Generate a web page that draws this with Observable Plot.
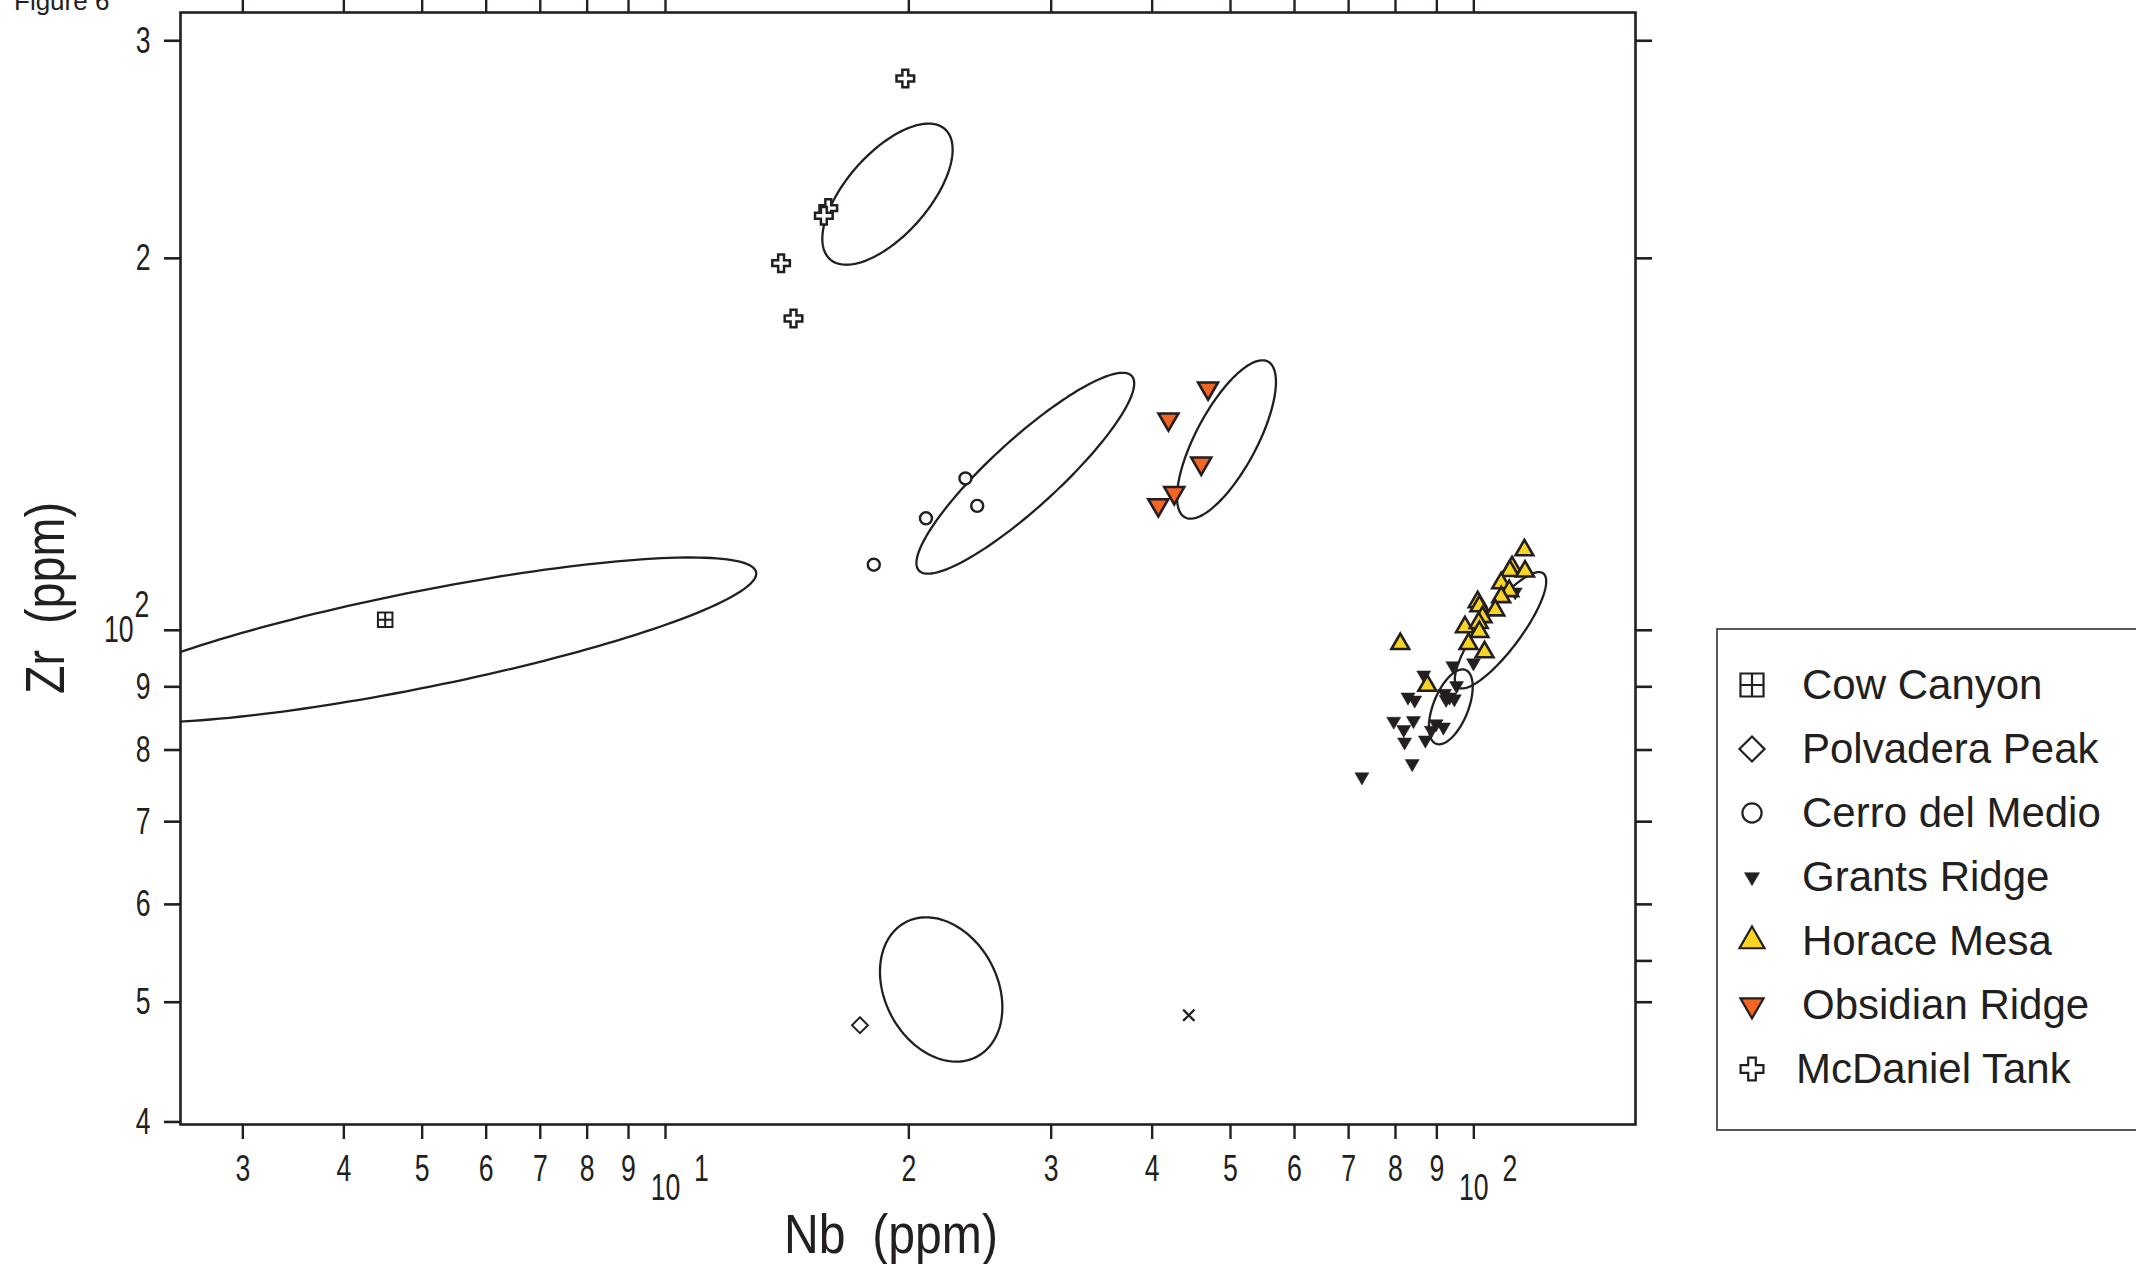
<!DOCTYPE html>
<html>
<head>
<meta charset="utf-8">
<script src="https://cdn.jsdelivr.net/npm/d3@7"></script>
<script src="https://cdn.jsdelivr.net/npm/@observablehq/plot@0.6"></script>
<style>
  html, body { margin: 0; padding: 0; background: #fff; overflow: hidden; }
  #wrap { position: relative; width: 2136px; height: 1264px; font-family: "Liberation Sans", Arial, sans-serif; color: #231f20; }
  #fig { position: absolute; left: 14px; top: -12px; font-size: 26px; line-height: 26px; }
  .title { position: absolute; font-size: 55px; line-height: 55px; white-space: nowrap; }
  #xtitle { left: 891px; top: 1234px; transform: translate(-50%, -50%) scaleX(0.875); }
  #ytitle { left: 45px; top: 598px; transform: translate(-50%, -50%) rotate(-90deg) scaleX(0.85); }
  #legend { position: absolute; left: 1716px; top: 628px; width: 460px; height: 503px; border: 2px solid #58595b; box-sizing: border-box; }
  .lrow { position: absolute; left: 0; height: 42px; font-size: 42px; line-height: 42px; white-space: nowrap; }
  .lrow svg { position: absolute; left: 14px; top: 1px; overflow: visible; }
  .lrow span { position: absolute; }
</style>
</head>
<body>
<div id="wrap">
  <div id="chart"></div>
  <div id="fig">Figure 6</div>
  <div id="xtitle" class="title">Nb&nbsp;&nbsp;(ppm)</div>
  <div id="ytitle" class="title">Zr&nbsp;&nbsp;(ppm)</div>
  <div id="legend"></div>
</div>
<script>
// ---------- data ----------
const groups = ["Cow Canyon", "Polvadera Peak", "Cerro del Medio", "Grants Ridge", "Horace Mesa", "Obsidian Ridge", "McDaniel Tank"];

const cowCanyonNb = [4.5];
const cowCanyonZr = [102];
const polvaderaNb = [17.4];
const polvaderaZr = [47.9];
const cerroNb = [23.5, 21.0, 24.3, 18.1];
const cerroZr = [132.7, 123.2, 126.1, 113.0];
const grantsNb = [94.2, 99.9, 86.7, 95.2, 82.9, 84.5, 92.0, 93.3, 94.6, 92.4, 79.6, 84.2, 81.9, 89.8, 91.7, 88.6, 82.1, 87.1, 83.9, 72.7, 112.5];
const grantsZr = [93.6, 94.1, 92.0, 90.2, 88.3, 87.8, 88.9, 88.3, 88.0, 87.9, 84.4, 84.5, 83.1, 84.0, 83.5, 83.0, 81.2, 81.5, 78.0, 76.1, 107.4];
const horaceNb = [115.5, 111.5, 110.8, 115.7, 108.1, 110.6, 108.1, 101.1, 101.6, 106.3, 102.5, 97.5, 101.4, 101.6, 98.5, 103.1, 81.1, 87.6];
const horaceZr = [116.1, 112.5, 111.7, 111.6, 109.2, 107.6, 106.4, 105.4, 104.6, 103.8, 102.5, 100.6, 101.4, 99.7, 97.5, 96.0, 97.5, 90.2];
const obsidianNb = [46.9, 41.9, 46.0, 42.6, 40.7];
const obsidianZr = [157.0, 148.2, 136.5, 129.2, 126.3];
const mcdanielNb = [19.8, 15.9, 15.7, 13.9, 14.4];
const mcdanielZr = [279.6, 219.6, 216.5, 198.2, 178.8];
const otherNb = [44.4];
const otherZr = [48.8];

// confidence ellipses (centre in ppm; half-extents in log10 units; rho = tilt/correlation)
const ellipseGroup = ["McDaniel Tank", "Cerro del Medio", "Obsidian Ridge", "Cow Canyon", "Polvadera Peak", "Horace Mesa", "Grants Ridge"];
const ellipseNb = [18.82, 27.87, 49.43, 4.946, 21.93, 107.9, 93.65];
const ellipseZr = [225.4, 134.0, 142.7, 98.2, 51.2, 100.0, 86.7];
const ellipseSx = [0.0806, 0.1347, 0.0612, 0.418, 0.0757, 0.0565, 0.0271];
const ellipseSy = [0.0571, 0.0813, 0.0641, 0.0668, 0.0584, 0.0471, 0.0303];
const ellipseRho = [0.631, 0.894, 0.726, 0.805, -0.2465, 0.84, 0.534];

// axis ticks
const xTicks = [3, 4, 5, 6, 7, 8, 9, 10, 20, 30, 40, 50, 60, 70, 80, 90, 100];
const xLabelValues = [3, 4, 5, 6, 7, 8, 9, 20, 30, 40, 50, 60, 70, 80, 90];
const xLabelText = ["3", "4", "5", "6", "7", "8", "9", "2", "3", "4", "5", "6", "7", "8", "9"];
const xDecades = [10, 100];
const xDecadeExp = ["1", "2"];
const yTicksLeft = [40, 50, 60, 70, 80, 90, 100, 200, 300];
const yTicksRight = [50, 54, 60, 70, 80, 90, 100, 200, 300];
const yLabelValues = [40, 50, 60, 70, 80, 90, 200, 300];
const yLabelText = ["4", "5", "6", "7", "8", "9", "2", "3"];
const yDecades = [100];
const yDecadeExp = ["2"];

// ---------- helpers ----------
const ink = "#231f20";
const rows = (nb, zr) => nb.map((v, i) => ({Nb: v, Zr: zr[i]}));

const triangleDown = {
  draw(ctx, size) {
    const y = -Math.sqrt(size / (Math.sqrt(3) * 3));
    ctx.moveTo(0, -y * 2);
    ctx.lineTo(-Math.sqrt(3) * y, y);
    ctx.lineTo(Math.sqrt(3) * y, y);
    ctx.closePath();
  }
};
const squarePlus = {
  draw(ctx, size) {
    const w = Math.sqrt(size) / 2;
    ctx.moveTo(-w, -w); ctx.lineTo(w, -w); ctx.lineTo(w, w); ctx.lineTo(-w, w); ctx.closePath();
    ctx.moveTo(0, -w); ctx.lineTo(0, w);
    ctx.moveTo(-w, 0); ctx.lineTo(w, 0);
  }
};

const ellipseRows = [];
ellipseGroup.forEach((g, k) => {
  const lx0 = Math.log10(ellipseNb[k]), ly0 = Math.log10(ellipseZr[k]);
  const sx = ellipseSx[k], sy = ellipseSy[k], r = ellipseRho[k];
  const n = 180;
  for (let j = 0; j < n; j++) {
    const t = 2 * Math.PI * j / n;
    ellipseRows.push({
      id: g,
      Nb: Math.pow(10, lx0 + sx * Math.cos(t)),
      Zr: Math.pow(10, ly0 + sy * (r * Math.cos(t) + Math.sqrt(1 - r * r) * Math.sin(t)))
    });
  }
});

const styles = {
  "Cow Canyon":      {symbol: squarePlus, fill: "white", stroke: ink, strokeWidth: 2, r: 8.2},
  "Polvadera Peak":  {symbol: "diamond2", fill: "white", stroke: ink, strokeWidth: 1.9, r: 7.2},
  "Cerro del Medio": {symbol: "circle", fill: "white", stroke: ink, strokeWidth: 2.4, r: 6.0},
  "Grants Ridge":    {symbol: triangleDown, fill: ink, stroke: ink, strokeWidth: 0.5, r: 5.2},
  "Horace Mesa":     {symbol: "triangle", fill: "#f9d423", stroke: ink, strokeWidth: 2.6, r: 6.6},
  "Obsidian Ridge":  {symbol: triangleDown, fill: "#f26522", stroke: ink, strokeWidth: 2.6, r: 7.4},
  "McDaniel Tank":   {symbol: "cross", fill: "white", stroke: ink, strokeWidth: 2.5, r: 7.4}
};

const labelFont = 37;

const chart = Plot.plot({
  width: 2136,
  height: 1264,
  marginLeft: 180,
  marginRight: 501,
  marginTop: 12,
  marginBottom: 140,
  x: {type: "log", domain: [Math.pow(10, 0.4), Math.pow(10, 2.2)], axis: null},
  y: {type: "log", domain: [Math.pow(10, 1.6), Math.pow(10, 2.5)], axis: null},
  style: {fontFamily: "'Liberation Sans', Arial, sans-serif", color: ink, background: "white", overflow: "visible"},
  marks: [
    // ellipses
    Plot.line(ellipseRows, {x: "Nb", y: "Zr", z: "id", curve: "linear-closed", stroke: ink, strokeWidth: 2.3, clip: true}),
    // points
    Plot.dot(rows(grantsNb, grantsZr), {x: "Nb", y: "Zr", ...styles["Grants Ridge"]}),
    Plot.dot(rows(horaceNb, horaceZr), {x: "Nb", y: "Zr", ...styles["Horace Mesa"]}),
    Plot.dot(rows(obsidianNb, obsidianZr), {x: "Nb", y: "Zr", ...styles["Obsidian Ridge"]}),
    Plot.dot(rows(cerroNb, cerroZr), {x: "Nb", y: "Zr", ...styles["Cerro del Medio"]}),
    Plot.dot(rows(mcdanielNb, mcdanielZr), {x: "Nb", y: "Zr", ...styles["McDaniel Tank"]}),
    Plot.dot(rows(cowCanyonNb, cowCanyonZr), {x: "Nb", y: "Zr", ...styles["Cow Canyon"]}),
    Plot.dot(rows(polvaderaNb, polvaderaZr), {x: "Nb", y: "Zr", ...styles["Polvadera Peak"]}),
    Plot.dot(rows(otherNb, otherZr), {x: "Nb", y: "Zr", symbol: "times", stroke: ink, strokeWidth: 2.2, r: 5.2}),
    // frame + ticks
    Plot.frame({stroke: ink, strokeWidth: 2.6}),
    Plot.axisX(xTicks, {anchor: "bottom", tickSize: 15, tickFormat: () => "", label: null, stroke: ink, strokeWidth: 2.4}),
    Plot.axisX(xTicks, {anchor: "top", tickSize: 15, tickFormat: () => "", label: null, stroke: ink, strokeWidth: 2.4}),
    Plot.axisY(yTicksLeft, {anchor: "left", tickSize: 16, tickFormat: () => "", label: null, stroke: ink, strokeWidth: 2.6}),
    Plot.axisY(yTicksRight, {anchor: "right", tickSize: 16, tickFormat: () => "", label: null, stroke: ink, strokeWidth: 2.6}),
    // tick labels
    Plot.text(xLabelValues, {x: d => d, text: (d, i) => xLabelText[i], frameAnchor: "bottom", dy: 45, lineAnchor: "middle", fontSize: labelFont, fill: ink}),
    Plot.text(xDecades, {x: d => d, text: () => "10", frameAnchor: "bottom", dy: 64, lineAnchor: "middle", fontSize: labelFont, fill: ink}),
    Plot.text(xDecades, {x: d => d, text: (d, i) => xDecadeExp[i], frameAnchor: "bottom", dx: 36, dy: 45, lineAnchor: "middle", fontSize: labelFont, fill: ink}),
    Plot.text(yLabelValues, {y: d => d, text: (d, i) => yLabelText[i], frameAnchor: "left", dx: -30, textAnchor: "end", lineAnchor: "middle", fontSize: labelFont, fill: ink}),
    Plot.text(yDecades, {y: d => d, text: () => "10", frameAnchor: "left", dx: -47, textAnchor: "end", lineAnchor: "middle", fontSize: labelFont, fill: ink}),
    Plot.text(yDecades, {y: d => d, text: (d, i) => yDecadeExp[i], frameAnchor: "left", dx: -46, dy: -25, textAnchor: "start", lineAnchor: "middle", fontSize: labelFont, fill: ink})
  ]
});
document.getElementById("chart").appendChild(chart);

// condense the tick-label glyphs horizontally (the original uses a narrow face)
chart.querySelectorAll("text").forEach(t => {
  if (!t.textContent) return;
  const tr = t.getAttribute("transform");
  if (tr) {
    t.setAttribute("transform", tr + " scale(0.72,1)");
  } else {
    const x = +(t.getAttribute("x") || 0), y = +(t.getAttribute("y") || 0);
    t.removeAttribute("x"); t.removeAttribute("y");
    t.setAttribute("transform", `translate(${x},${y}) scale(0.72,1)`);
  }
});

// ---------- legend ----------
const legendSize = {
  "Cow Canyon": 13, "Polvadera Peak": 11.3, "Cerro del Medio": 9.6, "Grants Ridge": 5.6,
  "Horace Mesa": 9.3, "Obsidian Ridge": 8.6, "McDaniel Tank": 9.6
};
const symbolType = s => typeof s === "string"
  ? ({circle: d3.symbolCircle, diamond2: d3.symbolDiamond2, cross: d3.symbolCross, triangle: d3.symbolTriangle, times: d3.symbolTimes})[s]
  : s;
const legend = document.getElementById("legend");
const rowCenters = [54.5, 118.5, 182.5, 246.5, 310.6, 374.6, 438.6];
groups.forEach((g, i) => {
  const st = styles[g];
  const row = document.createElement("div");
  row.className = "lrow";
  row.style.top = (rowCenters[i] - 21) + "px";
  const r = legendSize[g];
  const path = d3.symbol(symbolType(st.symbol), Math.PI * r * r)();
  const sw = st.strokeWidth < 1 ? 0.5 : 2.2;
  row.innerHTML = `<svg width="40" height="40" viewBox="-20 -20 40 40"><path d="${path}" fill="${st.fill}" stroke="${st.stroke}" stroke-width="${sw}"/></svg>` +
    `<span style="left:${g === "McDaniel Tank" ? 78 : 84}px;top:0">${g}</span>`;
  legend.appendChild(row);
});
</script>
</body>
</html>
